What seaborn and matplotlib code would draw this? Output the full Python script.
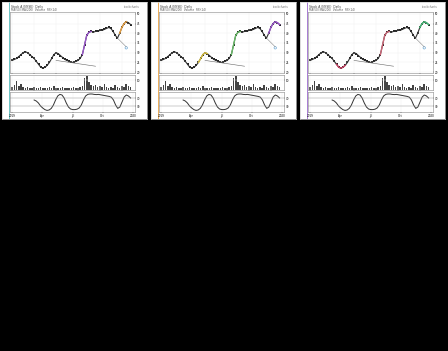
import matplotlib
matplotlib.use("Agg")
import matplotlib.pyplot as plt
import numpy as np
import pandas as pd
import seaborn as sns

# price closes (same series in all three panels)
closes = [26, 26.5, 27, 28, 29, 30, 30.5, 30, 29, 28, 27, 25.5, 24, 22.5, 22,
          22.5, 23.5, 25, 27, 29, 30, 29.5, 28.5, 27.5, 26.5, 26, 25.5, 25, 25,
          25.5, 26, 27, 29, 34, 39, 40.5, 41, 40.5, 41, 41, 41.5, 41.5, 42,
          42.5, 43, 42.5, 41, 39, 37.5, 40, 43, 45, 46, 45.5, 44.5]
volumes = [3, 5, 9, 4, 6, 3, 2, 3, 2, 2, 3, 2, 2, 3, 2, 2, 2, 3, 2, 4, 2, 2,
           2, 3, 2, 2, 2, 2, 3, 2, 2, 3, 4, 12, 14, 8, 5, 4, 5, 3, 4, 3, 6, 3,
           2, 3, 2, 5, 3, 2, 4, 3, 6, 4, 3]
oscillator = [60, 55, 45, 30, 20, 12, 8, 10, 18, 35, 60, 80, 88, 85, 70, 45,
              25, 15, 12, 12, 14, 20, 35, 60, 80, 88, 90, 90, 88, 87, 88, 86,
              84, 82, 80, 78, 74, 60, 35, 18, 25, 50, 75, 85, 80, 70]
date_labels = ["2019", "Apr", "Jul", "Oct", "2020"]
panel_titles = ["Stock A (NYSE)  Daily", "Stock A (NYSE)  Daily", "Stock A (NYSE)  Daily"]
accent_colors = ["#55bbbb", "#e8a040", "#9966cc"]
# coloured stretches of the price line per panel: (start, end, colour)
highlights = [
    [(32, 36, "#9955cc"), (49, 52, "#e8a040")],
    [(32, 36, "#66bb66"), (17, 21, "#d8c040"), (49, 54, "#9955cc")],
    [(12, 16, "#cc4466"), (32, 36, "#cc6677"), (50, 54, "#44bb77")],
]

price_df = pd.DataFrame({"day": np.arange(len(closes)), "close": closes})
vol_df = pd.DataFrame({"day": np.arange(len(volumes)), "vol": volumes})
osc_df = pd.DataFrame({"idx": np.linspace(10, len(closes) - 1, len(oscillator)),
                       "osc": oscillator})

W, H = 448, 351
fig = plt.figure(figsize=(W / 100, H / 100), dpi=100, facecolor="black")


def fx(px):
    return px / W


def fy(py, h):
    return 1 - (py + h) / H


for i in range(3):
    left = 2 + i * 149
    pw = 145
    # white panel background
    bg = fig.add_axes([fx(left), fy(2, 117), fx(pw), 117 / H])
    bg.set_facecolor("white")
    bg.set_xticks([])
    bg.set_yticks([])
    for s in bg.spines.values():
        s.set_color("#cccccc")
        s.set_linewidth(0.5)
    bg.axvline(0.05, color=accent_colors[i], lw=0.6)
    bg.text(0.06, 0.975, panel_titles[i], fontsize=2.2, va="top", color="#333333")
    bg.text(0.06, 0.945, "MA(50) MA(200)  Volume  RSI(14)", fontsize=2.0,
            va="top", color="#555555")
    bg.text(0.95, 0.975, "stockcharts", fontsize=2.0, va="top", ha="right",
            color="#777777")

    ax_p = fig.add_axes([fx(left + 8), fy(12, 61), fx(pw - 20), 61 / H])
    ax_v = fig.add_axes([fx(left + 8), fy(75, 15), fx(pw - 20), 15 / H])
    ax_o = fig.add_axes([fx(left + 8), fy(92, 20), fx(pw - 20), 20 / H])

    sns.lineplot(data=price_df, x="day", y="close", ax=ax_p,
                 color="#333333", lw=0.8)
    sns.scatterplot(data=price_df, x="day", y="close", ax=ax_p,
                    color="#222222", s=2, marker="s", linewidth=0)
    for a0, a1, c in highlights[i]:
        seg = price_df.iloc[a0:a1 + 1]
        sns.lineplot(data=seg, x="day", y="close", ax=ax_p, color=c, lw=1.0)
    # trend lines and projection marker
    ax_p.plot([price_df.day[20], price_df.day[38]], [26, 23], color="#666666", lw=0.4)
    ax_p.plot([price_df.day[48], price_df.day[52]], [37.5, 33], color="#888888", lw=0.4)
    ax_p.scatter([price_df.day[52]], [32.5], s=3, facecolor="none",
                 edgecolor="#5599cc", lw=0.4)
    ax_p.set_ylim(19.5, 51)
    ax_p.set_xlim(-1, len(closes) + 1)
    ax_p.yaxis.tick_right()
    ax_p.tick_params(labelsize=2, length=1, width=0.3, pad=0.5)
    ax_p.set_xticklabels([])
    ax_p.set_xlabel("")
    ax_p.set_ylabel("")

    ax_v.bar(vol_df.day, vol_df.vol, color="#444444", width=0.7)
    ax_v.set_xlim(-1, len(closes) + 1)
    ax_v.set_ylim(0, 15)
    ax_v.set_yticks([10])
    ax_v.yaxis.tick_right()
    ax_v.tick_params(labelsize=2, length=1, width=0.3, pad=0.5)
    ax_v.set_xticklabels([])

    sns.lineplot(data=osc_df, x="idx", y="osc", ax=ax_o, color="#333333", lw=0.7)
    ax_o.axhline(70, color="#999999", lw=0.3)
    ax_o.axhline(30, color="#999999", lw=0.3)
    ax_o.set_xlim(-1, len(closes) + 1)
    ax_o.set_ylim(0, 100)
    ax_o.set_yticks([30, 70])
    ax_o.yaxis.tick_right()
    ax_o.set_xticks(np.linspace(0, len(closes), len(date_labels)))
    ax_o.set_xticklabels(date_labels)
    ax_o.tick_params(labelsize=2, length=1, width=0.3, pad=0.5)
    ax_o.set_xlabel("")
    ax_o.set_ylabel("")

    for a in (ax_p, ax_v, ax_o):
        a.grid(color="#eeeeee", lw=0.3)
        for s in a.spines.values():
            s.set_linewidth(0.4)
            s.set_color("#888888")

fig.savefig("out.png", dpi=100, facecolor="black")
